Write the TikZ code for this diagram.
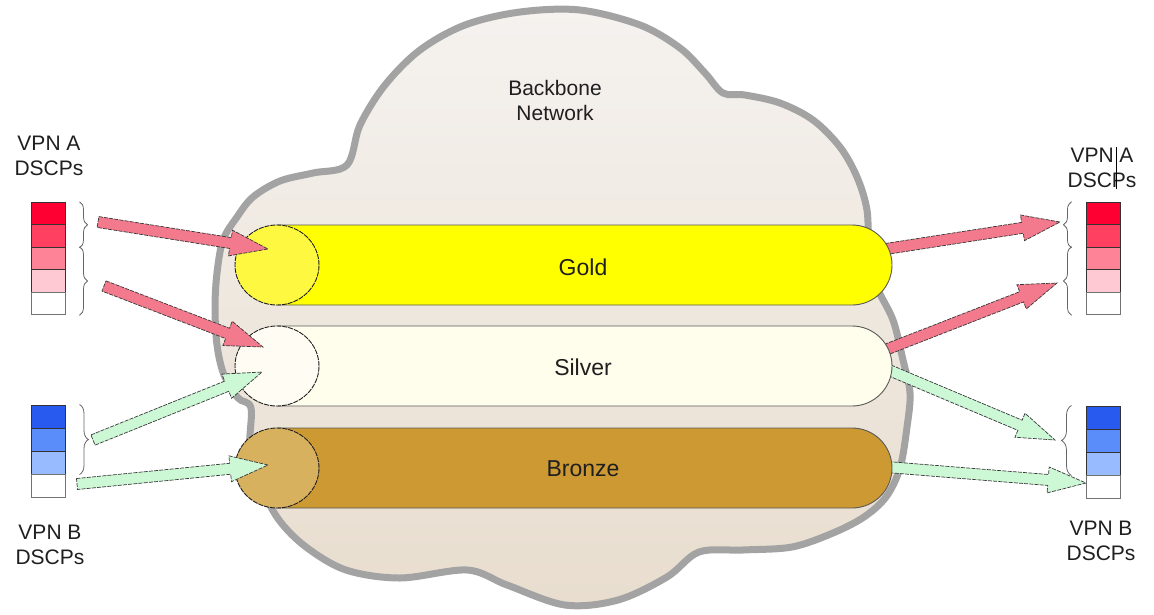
\documentclass[tikz,border=0pt]{standalone}
\usepackage{fontspec}
\setmainfont{Liberation Sans}
\usetikzlibrary{calc,shapes.geometric,decorations.pathreplacing}
\definecolor{cPink}{HTML}{F27A8C}
\definecolor{cGreen}{HTML}{CCF8D6}
\definecolor{cGoldBody}{HTML}{FFFF00}
\definecolor{cGoldFace}{HTML}{FFF840}
\definecolor{cSilverBody}{HTML}{FFFDEB}
\definecolor{cSilverFace}{HTML}{FFFDF3}
\definecolor{cBronzeBody}{HTML}{CC9933}
\definecolor{cBronzeFace}{HTML}{D8B15E}
\definecolor{cCloudFill}{HTML}{E8DDCE}
\definecolor{cCloudTop}{HTML}{F5F2EF}
\definecolor{cCloudEdge}{HTML}{A3A3A3}
\definecolor{cRedA}{HTML}{FF0033}
\definecolor{cRedB}{HTML}{FF4060}
\definecolor{cRedC}{HTML}{FF8396}
\definecolor{cRedD}{HTML}{FFC9D3}
\definecolor{cBlueA}{HTML}{285AF0}
\definecolor{cBlueB}{HTML}{5A8CFA}
\definecolor{cBlueC}{HTML}{98BAFF}
\newcommand\blockarr[3]{%
  \coordinate (bac) at ($(#3)!38pt!(#2)$);
  \filldraw[arrline, fill=#1] ($(#2)!5.5pt!90:(#3)$) -- ($(bac)!5.5pt!90:(#3)$) -- ($(bac)!13pt!90:(#3)$) -- (#3) -- ($(bac)!13pt!-90:(#3)$) -- ($(bac)!5.5pt!-90:(#3)$) -- ($(#2)!5.5pt!-90:(#3)$) -- cycle;
}
\newcommand\tubeshape[4]{%
  \filldraw[tubeline, fill=#2] (277,#1-40) -- (852,#1-40) arc[start angle=-90,end angle=90,radius=40] -- (277,#1+40) -- cycle;
  \node[tubeface, fill=#3] (#4face) at (277,#1) {};
}
\tikzset{
  arrline/.style={draw=black!78, line width=0.7pt, dash pattern=on 4pt off 1.2pt, line join=miter},
  tubeline/.style={draw=black!65, line width=0.9pt},
  tubeface/.style={ellipse, draw=black!88, line width=0.9pt, dash pattern=on 5pt off 1pt, minimum width=84pt, minimum height=80pt, inner sep=0pt},
  lbl/.style={font=\fontsize{21}{25}\selectfont, text=black!88, align=center, inner sep=0pt},
  tubelbl/.style={font=\fontsize{23}{27}\selectfont, text=black!88, inner sep=0pt},
  cell/.style={draw=black!80, line width=1pt, minimum width=34pt, minimum height=22.5pt, inner sep=0pt},
  bcell/.style={cell, minimum height=23pt},
  bracel/.style={draw=black!60, line width=0.8pt, decorate, decoration={brace, amplitude=8pt}},
}
\begin{document}
\begin{tikzpicture}[x=1pt,y=-1pt]
\useasboundingbox (0,0) rectangle (1154,614);
% cloud
\filldraw[draw=cCloudEdge, line width=7pt, top color=cCloudTop, bottom color=cCloudFill]
  plot[smooth cycle, tension=0.55] coordinates {
  (215,307) (217,273) (223,240) (237,217) (253,197) (280,181) (313,173) (347,165)
  (360,125) (385,85) (420,50) (465,25) (520,12) (580,10) (640,25) (680,48) (705,73) (723,93)
  (745,95) (780,103) (813,120) (840,147) (857,177) (867,210) (869,250) (876,285)
  (893,320) (903,360) (910,393) (907,427) (900,468) (886,497) (864,517) (833,533)
  (792,547) (743,550) (699,552) (667,577) (618,600) (565,605) (507,585) (467,570)
  (400,578) (346,570) (306,547) (279,520) (262,488) (250,450) (251,408)
  (238,398) (224,375) (217,345)};
\node[lbl] (backbone) at (555,100) {Backbone\\Network};
% right-side arrows (tails hidden under tube ends)
\coordinate (rpt1) at (860,253);
\coordinate (rph1) at (1060,222);
\coordinate (rpt2) at (862,359);
\coordinate (rph2) at (1057,283);
\coordinate (rgt1) at (865,360);
\coordinate (rgh1) at (1055,440);
\coordinate (rgt2) at (862,465);
\coordinate (rgh2) at (1086,483);
\blockarr{cPink}{rpt1}{rph1}
\blockarr{cPink}{rpt2}{rph2}
\blockarr{cGreen}{rgt1}{rgh1}
\blockarr{cGreen}{rgt2}{rgh2}
% tubes
\tubeshape{265}{cGoldBody}{cGoldFace}{gold}
\tubeshape{366}{cSilverBody}{cSilverFace}{silver}
\tubeshape{468}{cBronzeBody}{cBronzeFace}{bronze}
\node[tubelbl] (goldlbl) at (583,267) {Gold};
\node[tubelbl] (silverlbl) at (583,367) {Silver};
\node[tubelbl] (bronzelbl) at (583,469) {Bronze};
% left-side arrows
\coordinate (lpt1) at (98,222);
\coordinate (lpt2) at (104,286);
\coordinate (lgt1) at (93,440);
\coordinate (lgt2) at (77,484);
\coordinate (lph1) at ($(goldface.center)+(-9,-16)$);
\coordinate (lph2) at ($(silverface.center)+(-14,-19)$);
\coordinate (lgh1) at ($(silverface.center)+(-15,6)$);
\coordinate (lgh2) at ($(bronzeface.center)+(-9,-3)$);
\blockarr{cPink}{lpt1}{lph1}
\blockarr{cPink}{lpt2}{lph2}
\blockarr{cGreen}{lgt1}{lgh1}
\blockarr{cGreen}{lgt2}{lgh2}
% VPN A left
\node[cell, fill=cRedA] (la1) at (48,213.5) {};
\node[cell, fill=cRedB] (la2) at (48,236) {};
\node[cell, fill=cRedC] (la3) at (48,258.5) {};
\node[cell, fill=cRedD] (la4) at (48,281) {};
\node[cell, fill=white, draw=black!55] (la5) at (48,303.5) {};
\draw[bracel] ($(la1.north east)+(14,0)$) -- ($(la2.south east)+(14,0)$);
\draw[bracel] ($(la3.north east)+(14,0)$) -- ($(la5.south east)+(14,0)$);
\node[lbl] (vpnal) at (49,156) {VPN A\\DSCPs};
% VPN B left
\node[bcell, fill=cBlueA] (lb1) at (48,416.5) {};
\node[bcell, fill=cBlueB] (lb2) at (48,439.5) {};
\node[bcell, fill=cBlueC] (lb3) at (48,462.5) {};
\node[bcell, fill=white, draw=black!55] (lb4) at (48,485.5) {};
\draw[bracel, decoration={brace, amplitude=9pt}] ($(lb1.north east)+(14,0)$) -- ($(lb3.south east)+(14,0)$);
\node[lbl] (vpnbl) at (50,545) {VPN B\\DSCPs};
% VPN A right
\node[cell, fill=cRedA] (ra1) at (1103,213.5) {};
\node[cell, fill=cRedB] (ra2) at (1103,236) {};
\node[cell, fill=cRedC] (ra3) at (1103,258.5) {};
\node[cell, fill=cRedD] (ra4) at (1103,281) {};
\node[cell, fill=white, draw=black!55] (ra5) at (1103,303.5) {};
\draw[bracel] ($(ra2.south west)+(-14,0)$) -- ($(ra1.north west)+(-14,0)$);
\draw[bracel] ($(ra5.south west)+(-14,0)$) -- ($(ra3.north west)+(-14,0)$);
\node[lbl] (vpnar) at (1102,168) {VPN A\\DSCPs};
\draw[black, line width=1pt] (1116,147) -- (1116,189);
% VPN B right
\node[bcell, fill=cBlueA] (rb1) at (1103,417.5) {};
\node[bcell, fill=cBlueB] (rb2) at (1103,440.5) {};
\node[bcell, fill=cBlueC] (rb3) at (1103,463.5) {};
\node[bcell, fill=white, draw=black!55] (rb4) at (1103,486.5) {};
\draw[bracel, decoration={brace, amplitude=10pt}] ($(rb3.south west)+(-14,0)$) -- ($(rb1.north west)+(-14,0)$);
\node[lbl] (vpnbr) at (1101,541) {VPN B\\DSCPs};
\end{tikzpicture}
\end{document}
